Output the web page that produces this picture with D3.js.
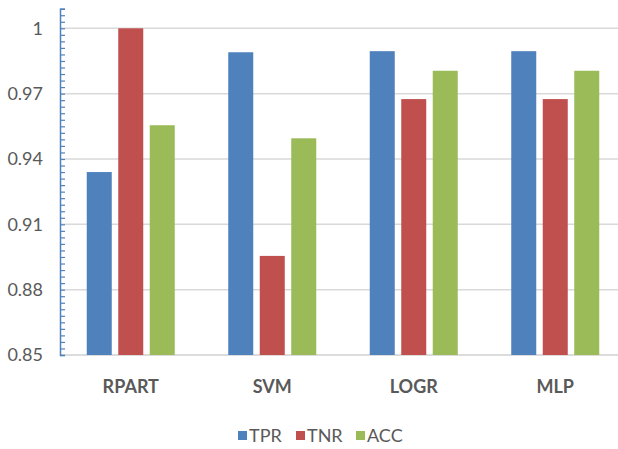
<!DOCTYPE html>
<html>
<head>
<meta charset="utf-8">
<script src="https://cdn.jsdelivr.net/npm/d3@7"></script>
<style>
  html, body { margin: 0; padding: 0; background: #fff; }
  svg { display: block; }
</style>
</head>
<body>
<svg id="chart" width="618" height="449"></svg>
<script>
// Classifier results per model
const categories = ["RPART", "SVM", "LOGR", "MLP"];
const seriesNames = ["TPR", "TNR", "ACC"];
const tprValues = [0.934, 0.989, 0.9895, 0.9895];
const tnrValues = [1.0, 0.8955, 0.9675, 0.9675];
const accValues = [0.9555, 0.9495, 0.9805, 0.9805];
const yTickLabels = ["0.85", "0.88", "0.91", "0.94", "0.97", "1"];
const colors = ["#4F81BD", "#C0504D", "#9BBB59"];

const seriesValues = [tprValues, tnrValues, accValues];
const rows = categories.map((c, i) => ({
  cat: c,
  vals: seriesNames.map((s, j) => ({ key: s, value: seriesValues[j][i], color: colors[j] }))
}));

const svg = d3.select("#chart");
const plotLeft = 60, plotRight = 626, plotTop = 8.7, plotBottom = 355;

const y = d3.scaleLinear().domain([0.85, 1.009]).range([plotBottom, plotTop]);
const x0 = d3.scaleBand().domain(categories).range([plotLeft, plotRight])
  .paddingInner(0.378).paddingOuter(0.189);
const x1 = d3.scaleBand().domain(seriesNames).range([0, x0.bandwidth()])
  .paddingInner(0.206);

const majorTicks = yTickLabels.map(Number);

// gridlines
svg.append("g").selectAll("line").data(majorTicks.slice(1)).join("line")
  .attr("x1", plotLeft).attr("x2", 618)
  .attr("y1", d => y(d)).attr("y2", d => y(d))
  .attr("stroke", "#d9d9d9").attr("stroke-width", 1.5);

// bottom axis line
svg.append("line")
  .attr("x1", plotLeft).attr("x2", 618)
  .attr("y1", plotBottom).attr("y2", plotBottom)
  .attr("stroke", "#d0d0d0").attr("stroke-width", 1.5);

// bars
const groups = svg.append("g").selectAll("g").data(rows).join("g")
  .attr("transform", d => `translate(${x0(d.cat)},0)`);
groups.selectAll("rect").data(d => d.vals).join("rect")
  .attr("x", d => x1(d.key))
  .attr("width", x1.bandwidth())
  .attr("y", d => y(d.value))
  .attr("height", d => plotBottom - y(d.value))
  .attr("fill", d => d.color);

// y axis with minor ticks every 0.003
const minorTicks = d3.range(0, 54).map(k => +(0.85 + k * 0.003).toFixed(3));
const yAxis = d3.axisRight(y).tickValues(minorTicks).tickSize(5).tickFormat("");
const ga = svg.append("g").attr("transform", `translate(${plotLeft},0)`).call(yAxis);
ga.select(".domain").attr("stroke", "#4F81BD").attr("stroke-width", 1.5);
ga.selectAll(".tick line").attr("stroke", "#4F81BD").attr("stroke-width", 1.2);

// y tick labels
const yLabels = d3.axisLeft(y).tickValues(majorTicks).tickSize(0).tickPadding(17)
  .tickFormat((d, i) => yTickLabels[i]);
const gl = svg.append("g").attr("transform", `translate(${plotLeft},0)`).call(yLabels);
gl.select(".domain").remove();
gl.selectAll("text")
  .attr("fill", "#595959")
  .style("font-family", "Lato, 'Open Sans', sans-serif")
  .style("font-size", "18px");

// category labels
svg.append("g").selectAll("text").data(categories).join("text")
  .attr("x", d => x0(d) + x0.bandwidth() / 2)
  .attr("y", 393)
  .attr("text-anchor", "middle")
  .attr("fill", "#595959")
  .style("font-family", "Lato, 'Open Sans', sans-serif")
  .style("font-weight", "bold")
  .style("font-size", "18px")
  .text(d => d);

// legend
const legendX = [238, 296, 356];
const lg = svg.append("g").selectAll("g").data(seriesNames).join("g")
  .attr("transform", (d, i) => `translate(${legendX[i]},431)`);
lg.append("rect").attr("y", 0).attr("width", 9).attr("height", 9)
  .attr("fill", (d, i) => colors[i]);
lg.append("text").attr("x", 11).attr("y", 10.5)
  .attr("fill", "#595959")
  .style("font-family", "Lato, 'Open Sans', sans-serif")
  .style("font-size", "18px")
  .text(d => d);
</script>
</body>
</html>
